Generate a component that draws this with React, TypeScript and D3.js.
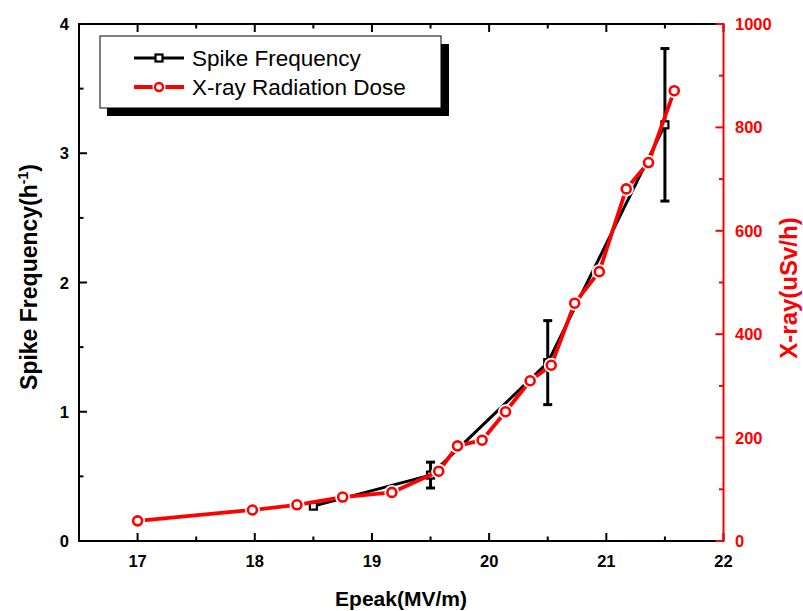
import React from "react";
import * as d3 from "d3";

const spikeX = [18.5, 19.5, 20.5, 21.5];
const spikeY = [0.27, 0.51, 1.38, 3.22];
const spikeErr = [0, 0.1, 0.325, 0.59];

const doseX = [17.0, 17.98, 18.36, 18.75, 19.17, 19.57, 19.73, 19.94, 20.14, 20.35, 20.53, 20.73, 20.94, 21.17, 21.36, 21.58];
const doseY = [39, 60, 70, 85, 94, 135, 184, 195, 250, 310, 340, 460, 521, 681, 732, 871];

const xMajor = [17, 18, 19, 20, 21, 22];
const xMinor = [16.5, 17.5, 18.5, 19.5, 20.5, 21.5];
const yLeftMajor = [0, 1, 2, 3, 4];
const yLeftMinor = [0.5, 1.5, 2.5, 3.5];
const yRightMajor = [0, 200, 400, 600, 800, 1000];
const yRightMinor = [100, 300, 500, 700, 900];

const legendLabels = ["Spike Frequency", "X-ray Radiation Dose"];

const W = 803, H = 611;
const L = 79, R = 723.5, T = 24, B = 541;
const RED = "#ff0000";
const FONT = "'Liberation Sans', Arial, sans-serif";

export default function App() {
  const x = d3.scaleLinear().domain([16.5, 22]).range([L, R]);
  const yL = d3.scaleLinear().domain([0, 4]).range([B, T]);
  const yR = d3.scaleLinear().domain([0, 1000]).range([B, T]);

  const spikePts: [number, number][] = spikeX.map((v, i) => [x(v), yL(spikeY[i])]);
  const dosePts: [number, number][] = doseX.map((v, i) => [x(v), yR(doseY[i])]);
  const line = d3.line();

  const MJ = 8, MN = 4.5;

  return (
    <svg width={W} height={H} style={{ position: "absolute", left: 0, top: 0, background: "#fff" }} fontFamily={FONT}>
      <rect x={0} y={0} width={W} height={H} fill="#fff" />
      {/* black spike line */}
      <path d={line(spikePts) || ""} fill="none" stroke="#000" strokeWidth={3} strokeLinejoin="round" />
      {/* error bars */}
      {spikeX.map((v, i) =>
        spikeErr[i] > 0 ? (
          <g key={"e" + i} stroke="#000" strokeWidth={3}>
            <line x1={x(v)} x2={x(v)} y1={yL(spikeY[i] - spikeErr[i])} y2={yL(spikeY[i] + spikeErr[i])} />
            <line x1={x(v) - 4.5} x2={x(v) + 4.5} y1={yL(spikeY[i] - spikeErr[i])} y2={yL(spikeY[i] - spikeErr[i])} />
            <line x1={x(v) - 4.5} x2={x(v) + 4.5} y1={yL(spikeY[i] + spikeErr[i])} y2={yL(spikeY[i] + spikeErr[i])} />
          </g>
        ) : null
      )}
      {spikePts.map((p, i) => (
        <rect key={"s" + i} x={p[0] - 3.5} y={p[1] - 3.5} width={7} height={7} fill="#fff" stroke="#000" strokeWidth={2.2} />
      ))}
      {/* red dose line */}
      <path d={line(dosePts) || ""} fill="none" stroke={RED} strokeWidth={3.8} strokeLinejoin="round" />
      {dosePts.map((p, i) => (
        <circle key={"h" + i} cx={p[0]} cy={p[1]} r={7.5} fill="#fff" />
      ))}
      {dosePts.map((p, i) => (
        <circle key={"c" + i} cx={p[0]} cy={p[1]} r={4.5} fill="#fff" stroke={RED} strokeWidth={2.6} />
      ))}

      {/* axes */}
      <g stroke="#000" strokeWidth={2}>
        <line x1={L} x2={L} y1={T - 1} y2={B + 1} />
        <line x1={L - 1} x2={R} y1={B} y2={B} />
        <line x1={L - 1} x2={R} y1={T} y2={T} />
        {xMajor.map((v) => (
          <g key={"xm" + v}>
            <line x1={x(v)} x2={x(v)} y1={B} y2={B - MJ} />
            <line x1={x(v)} x2={x(v)} y1={T} y2={T + MJ} />
          </g>
        ))}
        {xMinor.map((v) => (
          <g key={"xn" + v}>
            <line x1={x(v)} x2={x(v)} y1={B} y2={B - MN} />
            <line x1={x(v)} x2={x(v)} y1={T} y2={T + MN} />
          </g>
        ))}
        {yLeftMajor.map((v) => (
          <line key={"ylm" + v} x1={L} x2={L + MJ} y1={yL(v)} y2={yL(v)} />
        ))}
        {yLeftMinor.map((v) => (
          <line key={"yln" + v} x1={L} x2={L + MN} y1={yL(v)} y2={yL(v)} />
        ))}
      </g>
      <g stroke={RED} strokeWidth={2}>
        <line x1={R} x2={R} y1={T - 1} y2={B + 1} />
        {yRightMajor.map((v) => (
          <line key={"yrm" + v} x1={R} x2={R - MJ} y1={yR(v)} y2={yR(v)} />
        ))}
        {yRightMinor.map((v) => (
          <line key={"yrn" + v} x1={R} x2={R - MN} y1={yR(v)} y2={yR(v)} />
        ))}
      </g>

      {/* tick labels */}
      <g fontWeight="bold" fontSize={16.5} fill="#000">
        {xMajor.map((v) => (
          <text key={"xl" + v} x={x(v)} y={567} textAnchor="middle">{v}</text>
        ))}
        {yLeftMajor.map((v) => (
          <text key={"yl" + v} x={69} y={yL(v) + 6} textAnchor="end">{v}</text>
        ))}
      </g>
      <g fontWeight="bold" fontSize={16.5} fill={RED}>
        {yRightMajor.map((v) => (
          <text key={"yr" + v} x={735} y={yR(v) + 6} textAnchor="start">{v}</text>
        ))}
      </g>

      {/* axis titles */}
      <text x={401} y={606} textAnchor="middle" fontWeight="bold" fontSize={21}>Epeak(MV/m)</text>
      <text transform="translate(37,277) rotate(-90)" textAnchor="middle" fontWeight="bold" fontSize={23}>
        Spike Frequency(h<tspan fontSize={14} dy={-9}>-1</tspan><tspan dy={9}>)</tspan>
      </text>
      <text transform="translate(797,288) rotate(-90)" textAnchor="middle" fontWeight="bold" fontSize={24} fill={RED}>
        X-ray(uSv/h)
      </text>

      {/* legend */}
      <rect x={107} y={44} width={342} height={72} fill="#000" />
      <rect x={100} y={36} width={341} height={72} fill="#fff" stroke="#000" strokeWidth={1} />
      <line x1={134} x2={184} y1={58} y2={58} stroke="#000" strokeWidth={3} />
      <rect x={155.5} y={54.5} width={7} height={7} fill="#fff" stroke="#000" strokeWidth={2.2} />
      <line x1={134} x2={184} y1={87} y2={87} stroke={RED} strokeWidth={3.8} />
      <circle cx={159} cy={87} r={6.5} fill="#fff" />
      <circle cx={159} cy={87} r={4} fill="#fff" stroke={RED} strokeWidth={2.4} />
      <text x={192} y={66} fontSize={22.5} fill="#000">{legendLabels[0]}</text>
      <text x={192} y={95} fontSize={22.5} fill="#000">{legendLabels[1]}</text>
    </svg>
  );
}
